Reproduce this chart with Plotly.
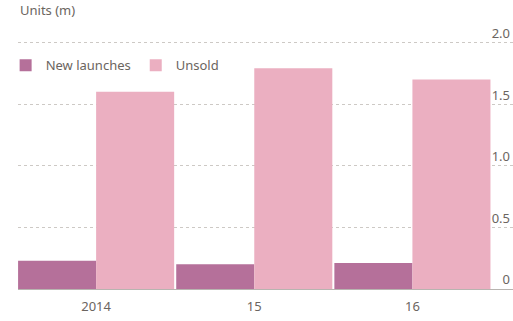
import plotly.graph_objects as go

years = ["2014", "15", "16"]
new_launches = [0.23, 0.20, 0.21]
unsold = [1.60, 1.79, 1.70]
y_ticks = [0, 0.5, 1.0, 1.5, 2.0]
y_tick_labels = ["0", "0.5", "1.0", "1.5", "2.0"]

x = list(range(len(years)))
font_fam = "Noto Sans, Lato, sans-serif"
grey = "#6b6560"

fig = go.Figure()
fig.add_trace(go.Bar(x=x, y=new_launches, name="New launches",
                     marker=dict(color="#b5709a", line=dict(width=0))))
fig.add_trace(go.Bar(x=x, y=unsold, name="Unsold",
                     marker=dict(color="#ebafc1", line=dict(width=0))))

fig.update_layout(
    width=513, height=321,
    margin=dict(l=18, r=0, t=22, b=32),
    paper_bgcolor="white", plot_bgcolor="white",
    barmode="group", bargap=0.013, bargroupgap=0,
    font=dict(family=font_fam, color=grey, size=13),
    showlegend=True,
    legend=dict(orientation="h", x=-0.025, xanchor="left", y=0.838, yanchor="middle",
                font=dict(size=13, color=grey), bgcolor="rgba(0,0,0,0)",
                itemwidth=30, tracegroupgap=0),
    xaxis=dict(range=[-0.494, 2.636], tickvals=x, ticktext=years,
               showgrid=False, zeroline=False, showline=False,
               ticks="", ticklabelstandoff=8, tickfont=dict(size=13, color=grey)),
    yaxis=dict(range=[0, 2.166], side="right", tickvals=y_ticks, ticktext=y_tick_labels,
               ticklabelposition="inside top", showgrid=True, gridcolor="#cdc9c5",
               griddash="dot", gridwidth=1, zeroline=True, zerolinecolor="#b8b4b0",
               zerolinewidth=1, showline=False, ticks="",
               tickfont=dict(size=13, color=grey)),
    annotations=[dict(text="Units (m)", x=0, xref="paper", xanchor="left",
                      y=1.0 + (22 - 10) / 267, yref="paper", yanchor="middle",
                      showarrow=False, font=dict(size=13, color=grey))],
)
fig.write_html("out.html", config={"displayModeBar": False},
               post_script="document.body.style.margin='0';document.body.style.padding='0';")
